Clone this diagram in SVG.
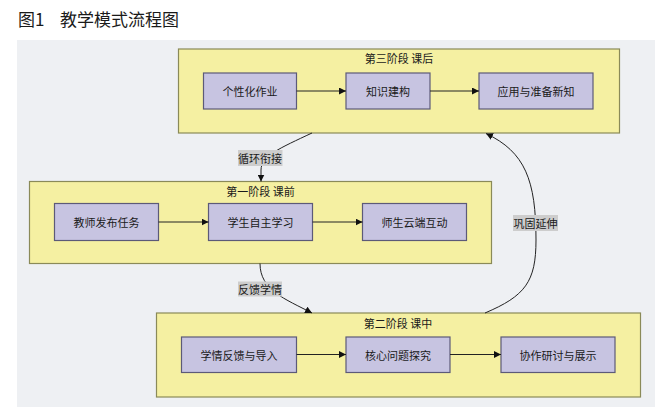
<svg xmlns="http://www.w3.org/2000/svg" width="665" height="414" viewBox="0 0 665 414">
<style>
text{font-family:"Noto Sans CJK SC","Noto Sans",sans-serif;fill:#1a1a1a}
.stage{fill:#f5f0a2;stroke:#8a8a58;stroke-width:1.2}
.node{fill:#c7c4e1;stroke:#5c5a78;stroke-width:1.2}
.t{font-size:11px;text-anchor:middle;dominant-baseline:central}
.edge{fill:none;stroke:#222;stroke-width:1}
.lbl{fill:#cdcdcd}
</style>
<defs>
<marker id="ah" viewBox="0 0 10 10" refX="10" refY="5" markerWidth="7" markerHeight="7" markerUnits="userSpaceOnUse" orient="auto">
<path d="M0,0 L10,5 L0,10 z" fill="#111"/>
</marker>
</defs>
<rect x="0" y="0" width="665" height="414" fill="#ffffff"/>
<text x="18" y="26" font-size="17">图1</text>
<text x="60" y="26" font-size="17">教学模式流程图</text>
<rect x="17" y="40" width="638" height="367" fill="#eef0f3"/>

<g id="stage3">
<rect class="stage" x="178.5" y="49" width="441" height="84"/>
<text class="t" x="399" y="58">第三阶段 课后</text>
</g>
<g id="n31"><rect class="node" x="203.5" y="73" width="93" height="36"/><text class="t" x="250" y="91">个性化作业</text></g>
<g id="n32"><rect class="node" x="346" y="73" width="84" height="36"/><text class="t" x="388" y="91">知识建构</text></g>
<g id="n33"><rect class="node" x="479" y="73" width="114" height="36"/><text class="t" x="536" y="91">应用与准备新知</text></g>

<g id="stage1">
<rect class="stage" x="29.5" y="181.5" width="462" height="82"/>
<text class="t" x="260.5" y="190.5">第一阶段 课前</text>
</g>
<g id="n11"><rect class="node" x="54.5" y="203.5" width="104" height="37"/><text class="t" x="106.5" y="222">教师发布任务</text></g>
<g id="n12"><rect class="node" x="208.5" y="203.5" width="104" height="37"/><text class="t" x="260.5" y="222">学生自主学习</text></g>
<g id="n13"><rect class="node" x="362.5" y="203.5" width="104" height="37"/><text class="t" x="414.5" y="222">师生云端互动</text></g>

<g id="stage2">
<rect class="stage" x="156.5" y="313" width="484" height="84"/>
<text class="t" x="398" y="323">第二阶段 课中</text>
</g>
<g id="n21"><rect class="node" x="181.5" y="337" width="115" height="35.5"/><text class="t" x="239" y="354.5">学情反馈与导入</text></g>
<g id="n22"><rect class="node" x="346" y="337" width="104" height="35.5"/><text class="t" x="398" y="354.5">核心问题探究</text></g>
<g id="n23"><rect class="node" x="501" y="337" width="114" height="35.5"/><text class="t" x="558" y="354.5">协作研讨与展示</text></g>

<g id="connectors">
<path class="edge" d="M296.5,91 L346,91" marker-end="url(#ah)"/>
<path class="edge" d="M430,91 L479,91" marker-end="url(#ah)"/>
<path class="edge" d="M158.5,222 L208.5,222" marker-end="url(#ah)"/>
<path class="edge" d="M312.5,222 L362.5,222" marker-end="url(#ah)"/>
<path class="edge" d="M296.5,354.5 L346,354.5" marker-end="url(#ah)"/>
<path class="edge" d="M450,354.5 L501,354.5" marker-end="url(#ah)"/>

<path class="edge" d="M312,133 C280,148 261,156 261,170 L261,181.5" marker-end="url(#ah)"/>
<path class="edge" d="M260,263.5 C260,290 285,299 312,313" marker-end="url(#ah)"/>
<path class="edge" d="M485,313 C525,296 536,282 536,240 C536,180 525,152 486,133.5" marker-end="url(#ah)"/>

<rect class="lbl" x="238" y="150" width="44.5" height="16"/>
<text class="t" x="260" y="158">循环衔接</text>
<rect class="lbl" x="238" y="281.5" width="44" height="15"/>
<text class="t" x="260" y="289">反馈学情</text>
<rect class="lbl" x="513" y="215" width="45" height="16"/>
<text class="t" x="535.5" y="223">巩固延伸</text>
</g>
</svg>
